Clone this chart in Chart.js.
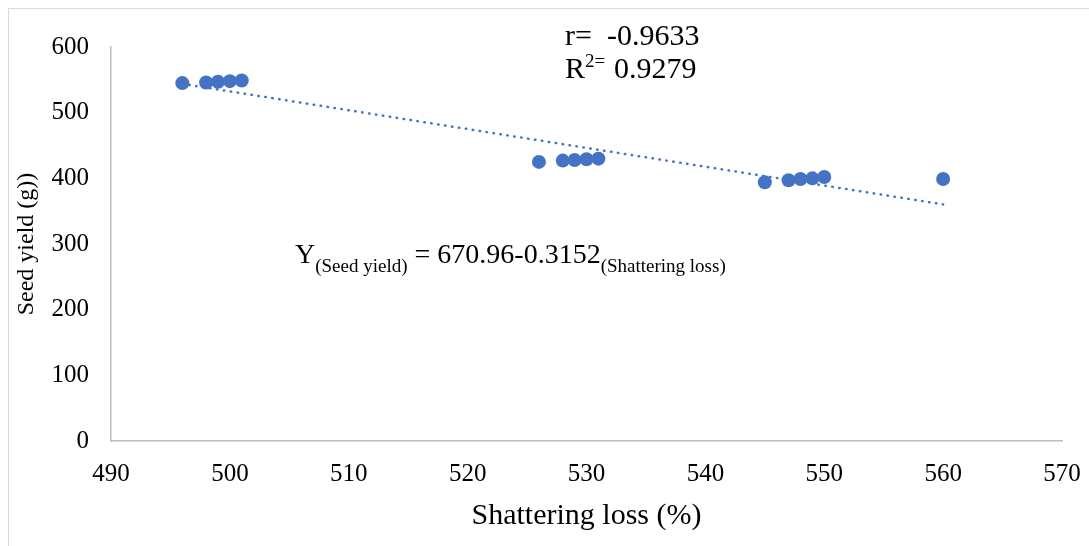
<!DOCTYPE html>
<html>
<head>
<meta charset="utf-8">
<script src="https://cdn.jsdelivr.net/npm/chart.js@4.4.1/dist/chart.umd.min.js"></script>
<style>
  body { margin: 0; background: #fff; overflow: hidden; }
  #frame { position: absolute; left: 8px; top: 8px; width: 1200px; height: 600px; border: 1px solid #d9d9d9; }
  #chart { position: absolute; left: 0; top: 0; }
</style>
</head>
<body>
<div id="frame"></div>
<canvas id="chart" width="1089" height="546"></canvas>
<script>
// shattering loss (%) vs seed yield (g)
var shatteringLoss = [496, 498, 499, 500, 501, 526, 528, 529, 530, 531, 545, 547, 548, 549, 550, 560];
var seedYield = [545, 546, 547, 548, 549, 425, 427, 428, 429, 430, 394, 397, 399, 400, 402, 399];

var xTicks = [490, 500, 510, 520, 530, 540, 550, 560, 570];
var yTicks = [0, 100, 200, 300, 400, 500, 600];

var blue = '#4472C4';
var axisGrey = '#bfbfbf';
var serif = '"Liberation Serif", "Times New Roman", serif';

var points = [];
for (var i = 0; i < shatteringLoss.length; i++) {
  points.push({x: shatteringLoss[i], y: seedYield[i]});
}

// linear least squares trend, like the spreadsheet trendline
var n = points.length, mx = 0, my = 0;
for (var i = 0; i < n; i++) { mx += points[i].x; my += points[i].y; }
mx /= n; my /= n;
var sxy = 0, sxx = 0;
for (var i = 0; i < n; i++) {
  sxy += (points[i].x - mx) * (points[i].y - my);
  sxx += (points[i].x - mx) * (points[i].x - mx);
}
var slope = sxy / sxx, icpt = my - slope * mx;
var xMin = Math.min.apply(null, shatteringLoss), xMax = Math.max.apply(null, shatteringLoss);
var trend = [{x: xMin, y: icpt + slope * xMin}, {x: xMax, y: icpt + slope * xMax}];

// text annotations (r, R², regression equation)
var notes = {
  id: 'notes',
  afterDraw: function (chart) {
    var ctx = chart.ctx;
    ctx.save();
    ctx.fillStyle = '#000';
    ctx.textBaseline = 'alphabetic';
    ctx.textAlign = 'left';

    ctx.font = '30px ' + serif;
    ctx.fillText('r=', 565, 45);
    ctx.fillText('-0.9633', 607, 45);

    ctx.fillText('R', 565, 78);
    var rw = ctx.measureText('R').width;
    ctx.font = '19px ' + serif;
    ctx.fillText('2=', 565 + rw, 67);
    ctx.font = '30px ' + serif;
    ctx.fillText('0.9279', 614, 78);

    var x = 295;
    var big = '28px ' + serif, small = '19px ' + serif;
    var parts = [
      ['Y', big, 263],
      ['(Seed yield)', small, 272],
      [' = 670.96-0.3152', big, 263],
      ['(Shattering loss)', small, 272]
    ];
    parts.forEach(function (p) {
      ctx.font = p[1];
      ctx.fillText(p[0], x, p[2]);
      x += ctx.measureText(p[0]).width;
    });
    ctx.restore();
  }
};

var ctx = document.getElementById('chart').getContext('2d');
new Chart(ctx, {
  type: 'scatter',
  data: {
    datasets: [{
      label: 'Seed yield',
      data: points,
      backgroundColor: blue,
      borderWidth: 0,
      pointRadius: 7,
      pointHoverRadius: 7,
      order: 1
    }, {
      type: 'line',
      label: 'Linear trend',
      data: trend,
      borderColor: blue,
      borderWidth: 2.5,
      borderDash: [0.5, 6.5],
      borderCapStyle: 'round',
      pointRadius: 0,
      fill: false,
      order: 2
    }]
  },
  options: {
    responsive: false,
    animation: false,
    layout: { padding: { left: 0, right: 27, top: 47, bottom: 0 } },
    plugins: { legend: { display: false }, tooltip: { enabled: false } },
    scales: {
      x: {
        type: 'linear',
        min: 490, max: 570,
        afterBuildTicks: function (s) { s.ticks = xTicks.map(function (v) { return {value: v}; }); },
        afterFit: function (s) { s.height = 105; s.paddingLeft = 0; s.paddingRight = 0; },
        grid: { display: false, drawTicks: false },
        border: { color: axisGrey, width: 1.5 },
        ticks: { color: '#000', padding: 18, font: { family: serif, size: 25 } },
        title: { display: true, text: 'Shattering loss (%)', color: '#000', padding: { top: 0, bottom: 12 }, font: { family: serif, size: 30 } }
      },
      y: {
        min: 0, max: 600,
        afterBuildTicks: function (s) { s.ticks = yTicks.map(function (v) { return {value: v}; }); },
        afterFit: function (s) { s.width = 111; s.paddingTop = 0; s.paddingBottom = 0; },
        grid: { display: false, drawTicks: false },
        border: { color: axisGrey, width: 1.5 },
        ticks: { color: '#000', padding: 22, font: { family: serif, size: 25 } },
        title: { display: true, text: 'Seed yield (g))', color: '#000', padding: { top: 12, bottom: 0 }, font: { family: serif, size: 24 } }
      }
    }
  },
  plugins: [notes]
});
</script>
</body>
</html>
